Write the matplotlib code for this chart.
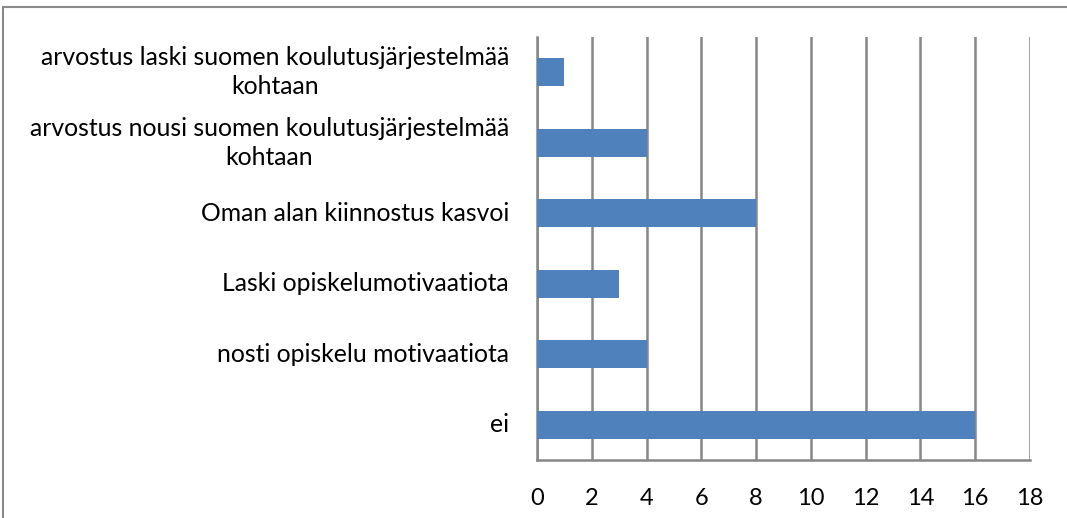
import matplotlib.pyplot as plt
import matplotlib.transforms as mtransforms
from matplotlib.patches import Rectangle

categories = [
    'ei',
    'nosti opiskelu motivaatiota',
    'Laski opiskelumotivaatiota',
    'Oman alan kiinnostus kasvoi',
    'arvostus nousi suomen koulutusjärjestelmää\nkohtaan',
    'arvostus laski suomen koulutusjärjestelmää\nkohtaan',
]
values = [16, 4, 3, 8, 4, 1]
xticks = [0, 2, 4, 6, 8, 10, 12, 14, 16, 18]

plt.rcParams['font.family'] = ['Lato', 'DejaVu Sans']

W, H = 1067, 518
fig = plt.figure(figsize=(W / 100, H / 100), dpi=100)
ax = fig.add_axes([537 / W, 1 - 460 / H, (1030 - 537) / W, (460 - 37) / H])

grid_c = '#868686'
pos = list(range(len(categories)))
ax.barh(pos, values, height=0.4, color='#4F81BD', zorder=3)
ax.set_xlim(0, 18)
ax.set_ylim(-0.5, len(categories) - 0.5)
ax.set_xticks(xticks)
ax.set_xticklabels([str(t) for t in xticks], fontsize=17)
ax.set_yticks(pos)
ax.set_yticklabels([])
ax.tick_params(length=0)
ax.tick_params(axis='x', pad=20)

# category labels: right aligned, wrapped lines centred on each other
lbl_tr = mtransforms.offset_copy(ax.get_yaxis_transform(), fig=fig,
                                 x=-28, y=0, units='dots')
for p, name in zip(pos, categories):
    ax.text(0, p, name, transform=lbl_tr, ha='right', va='center',
            multialignment='center', linespacing=1.3, fontsize=17.8)

ax.grid(axis='x', color=grid_c, linewidth=1.8, zorder=1)
for s in ['top', 'right']:
    ax.spines[s].set_visible(False)
for s in ['left', 'bottom']:
    ax.spines[s].set_color(grid_c)
    ax.spines[s].set_linewidth(1.8)

# outer chart border (only top and left visible in the crop)
fig.patches.append(Rectangle((3 / W, -0.1), 1.2, 1 - 7 / H + 0.1,
                             transform=fig.transFigure, fill=False,
                             edgecolor='#898989', linewidth=1.5))

fig.savefig('out.png', dpi=100)
